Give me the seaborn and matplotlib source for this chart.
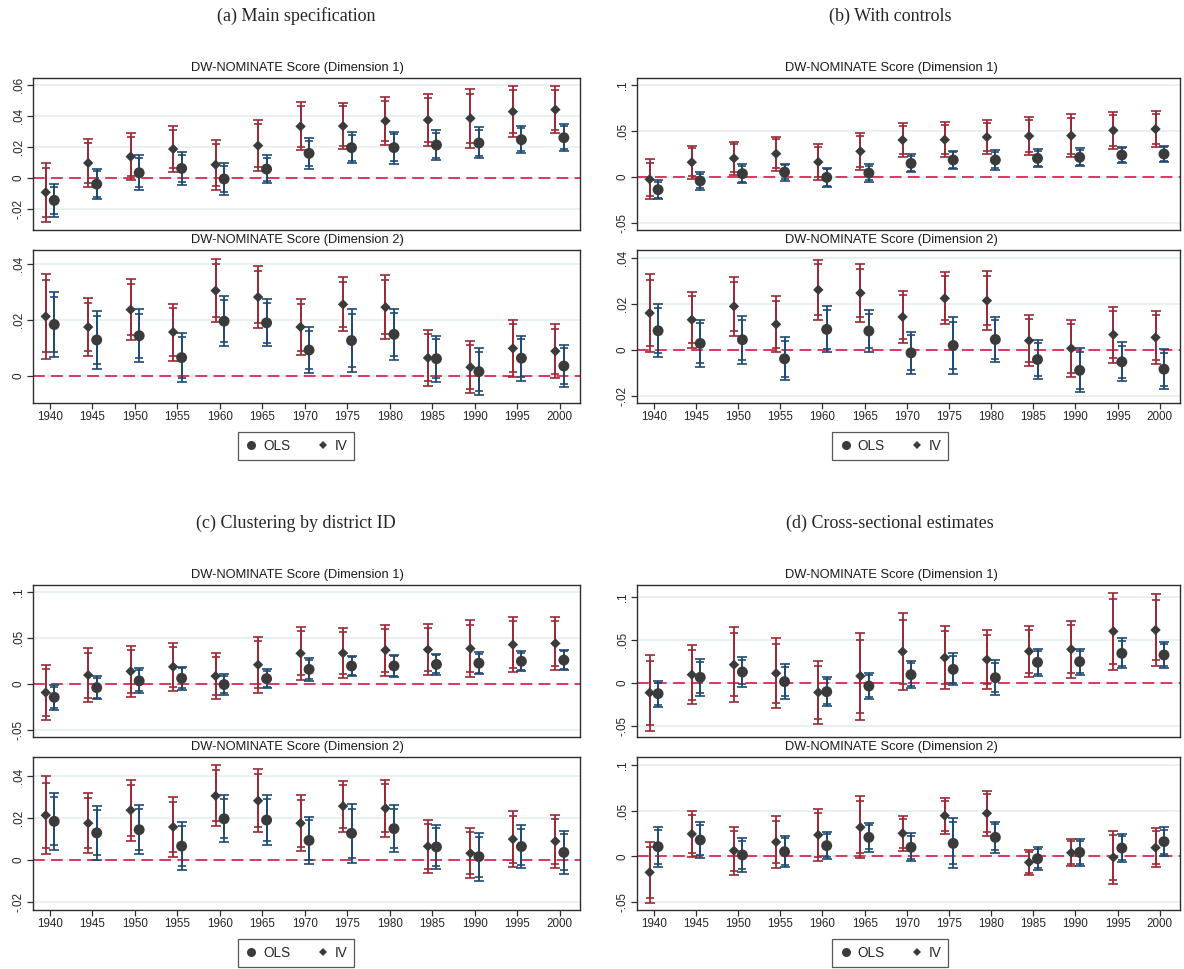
import numpy as np
import pandas as pd
import matplotlib
matplotlib.use("Agg")
import matplotlib.pyplot as plt
from matplotlib.lines import Line2D
from matplotlib.ticker import FuncFormatter
import seaborn as sns

# ---------------------------------------------------------------------------
# Estimates by Congress year (coefficients and standard errors)
# ---------------------------------------------------------------------------
YEARS = [1940, 1945, 1950, 1955, 1960, 1965, 1970, 1975, 1980, 1985, 1990, 1995, 2000]

# (a) Main specification
main_d1_iv = [-0.0092, 0.0097, 0.0138, 0.0187, 0.0086, 0.0209, 0.0333, 0.0335, 0.0368, 0.0374, 0.0385, 0.0428, 0.0441]
main_d1_iv_se = [0.0097, 0.0079, 0.0077, 0.0075, 0.0082, 0.0083, 0.0079, 0.0077, 0.0078, 0.0086, 0.0096, 0.0083, 0.0078]
main_d1_ols = [-0.0144, -0.0039, 0.0034, 0.0062, -0.0006, 0.0058, 0.0159, 0.0196, 0.0196, 0.0213, 0.0226, 0.0247, 0.0260]
main_d1_ols_se = [0.0054, 0.0050, 0.0057, 0.0053, 0.0052, 0.0045, 0.0050, 0.0051, 0.0053, 0.0049, 0.0051, 0.0045, 0.0045]
main_d2_iv = [0.0213, 0.0175, 0.0237, 0.0157, 0.0305, 0.0282, 0.0175, 0.0256, 0.0246, 0.0065, 0.0032, 0.0099, 0.0089]
main_d2_iv_se = [0.0078, 0.0053, 0.0055, 0.0052, 0.0058, 0.0056, 0.0051, 0.0049, 0.0058, 0.0051, 0.0048, 0.0052, 0.0049]
main_d2_ols = [0.0184, 0.0129, 0.0144, 0.0066, 0.0196, 0.0190, 0.0093, 0.0127, 0.0149, 0.0062, 0.0016, 0.0064, 0.0036]
main_d2_ols_se = [0.0060, 0.0053, 0.0048, 0.0044, 0.0045, 0.0043, 0.0042, 0.0057, 0.0046, 0.0042, 0.0043, 0.0041, 0.0038]

# (b) With controls
ctrl_d1_iv = [-0.0025, 0.0160, 0.0203, 0.0253, 0.0163, 0.0279, 0.0402, 0.0405, 0.0434, 0.0445, 0.0449, 0.0507, 0.0521]
ctrl_d1_iv_se = [0.0110, 0.0092, 0.0092, 0.0094, 0.0102, 0.0102, 0.0094, 0.0096, 0.0094, 0.0107, 0.0120, 0.0102, 0.0100]
ctrl_d1_ols = [-0.0138, -0.0043, 0.0036, 0.0054, -0.0004, 0.0043, 0.0148, 0.0185, 0.0185, 0.0203, 0.0214, 0.0239, 0.0250]
ctrl_d1_ols_se = [0.0054, 0.0048, 0.0052, 0.0047, 0.0054, 0.0048, 0.0050, 0.0052, 0.0055, 0.0050, 0.0050, 0.0045, 0.0046]
ctrl_d2_iv = [0.0161, 0.0132, 0.0190, 0.0112, 0.0262, 0.0248, 0.0144, 0.0225, 0.0215, 0.0041, 0.0007, 0.0067, 0.0055]
ctrl_d2_iv_se = [0.0086, 0.0062, 0.0065, 0.0062, 0.0067, 0.0064, 0.0057, 0.0058, 0.0065, 0.0057, 0.0064, 0.0062, 0.0059]
ctrl_d2_ols = [0.0084, 0.0029, 0.0045, -0.0038, 0.0090, 0.0083, -0.0012, 0.0020, 0.0046, -0.0041, -0.0088, -0.0051, -0.0083]
ctrl_d2_ols_se = [0.0059, 0.0053, 0.0053, 0.0048, 0.0051, 0.0046, 0.0046, 0.0063, 0.0051, 0.0043, 0.0049, 0.0043, 0.0044]

# (c) Clustering by district ID: same coefficients as (a), clustered errors
clus_d1_iv_se = [0.0155, 0.0149, 0.0142, 0.0132, 0.0128, 0.0154, 0.0145, 0.0138, 0.0142, 0.0142, 0.0158, 0.0153, 0.0146]
clus_d1_ols_se = [0.0068, 0.0066, 0.0070, 0.0065, 0.0059, 0.0052, 0.0062, 0.0058, 0.0063, 0.0059, 0.0062, 0.0055, 0.0057]
clus_d2_iv_se = [0.0094, 0.0073, 0.0074, 0.0073, 0.0074, 0.0076, 0.0068, 0.0062, 0.0069, 0.0065, 0.0061, 0.0068, 0.0065]
clus_d2_ols_se = [0.0069, 0.0065, 0.0060, 0.0058, 0.0057, 0.0060, 0.0058, 0.0071, 0.0057, 0.0054, 0.0058, 0.0052, 0.0052]

# (d) Cross-sectional estimates
cross_d1_iv = [-0.0113, 0.0097, 0.0213, 0.0113, -0.0109, 0.0081, 0.0365, 0.0295, 0.0272, 0.0369, 0.0392, 0.0601, 0.0617]
cross_d1_iv_se = [0.0226, 0.0176, 0.0224, 0.0208, 0.0186, 0.0258, 0.0227, 0.0188, 0.0174, 0.0152, 0.0170, 0.0228, 0.0212]
cross_d1_ols = [-0.0124, 0.0066, 0.0128, 0.0016, -0.0101, -0.0035, 0.0097, 0.0159, 0.0062, 0.0241, 0.0248, 0.0345, 0.0326]
cross_d1_ols_se = [0.0077, 0.0109, 0.0087, 0.0103, 0.0087, 0.0077, 0.0079, 0.0095, 0.0103, 0.0081, 0.0077, 0.0089, 0.0079]
cross_d2_iv = [-0.0175, 0.0245, 0.0062, 0.0157, 0.0234, 0.0318, 0.0252, 0.0445, 0.0471, -0.0066, 0.0040, -0.0011, 0.0095]
cross_d2_iv_se = [0.0171, 0.0126, 0.0134, 0.0143, 0.0144, 0.0173, 0.0097, 0.0100, 0.0127, 0.0069, 0.0075, 0.0149, 0.0110]
cross_d2_ols = [0.0106, 0.0179, 0.0015, 0.0051, 0.0117, 0.0208, 0.0099, 0.0142, 0.0208, -0.0026, 0.0044, 0.0091, 0.0161]
cross_d2_ols_se = [0.0112, 0.0099, 0.0095, 0.0088, 0.0075, 0.0080, 0.0078, 0.0140, 0.0086, 0.0064, 0.0076, 0.0079, 0.0080]

PANEL_TITLES = ["(a) Main specification", "(b) With controls",
                "(c) Clustering by district ID", "(d) Cross-sectional estimates"]
SUB_TITLES = ["DW-NOMINATE Score (Dimension 1)", "DW-NOMINATE Score (Dimension 2)"]
LEGEND_LABELS = ["OLS", "IV"]

# y-axis ranges and ticks per panel / dimension
YLIMS = {
    "a": [(-0.0335, 0.0645), (-0.0096, 0.045)],
    "b": [(-0.0576, 0.1076), (-0.023, 0.0435)],
    "c": [(-0.0576, 0.1076), (-0.0238, 0.049)],
    "d": [(-0.0628, 0.114), (-0.0587, 0.1087)],
}
YTICKS = {
    "a": [[-0.02, 0, 0.02, 0.04, 0.06], [0, 0.02, 0.04]],
    "b": [[-0.05, 0, 0.05, 0.1], [-0.02, 0, 0.02, 0.04]],
    "c": [[-0.05, 0, 0.05, 0.1], [-0.02, 0, 0.02, 0.04]],
    "d": [[-0.05, 0, 0.05, 0.1], [-0.05, 0, 0.05, 0.1]],
}

Z95, Z90 = 1.96, 1.645


def build_frame(iv, iv_se, ols, ols_se):
    rows = []
    for model, est, se in (("IV", iv, iv_se), ("OLS", ols, ols_se)):
        for yr, b, s in zip(YEARS, est, se):
            rows.append({"year": yr, "model": model, "est": b, "se": s})
    df = pd.DataFrame(rows)
    df["xpos"] = df["year"] + np.where(df["model"] == "IV", -0.5, 0.5)
    return df


PANELS = {
    "a": [build_frame(main_d1_iv, main_d1_iv_se, main_d1_ols, main_d1_ols_se),
          build_frame(main_d2_iv, main_d2_iv_se, main_d2_ols, main_d2_ols_se)],
    "b": [build_frame(ctrl_d1_iv, ctrl_d1_iv_se, ctrl_d1_ols, ctrl_d1_ols_se),
          build_frame(ctrl_d2_iv, ctrl_d2_iv_se, ctrl_d2_ols, ctrl_d2_ols_se)],
    "c": [build_frame(main_d1_iv, clus_d1_iv_se, main_d1_ols, clus_d1_ols_se),
          build_frame(main_d2_iv, clus_d2_iv_se, main_d2_ols, clus_d2_ols_se)],
    "d": [build_frame(cross_d1_iv, cross_d1_iv_se, cross_d1_ols, cross_d1_ols_se),
          build_frame(cross_d2_iv, cross_d2_iv_se, cross_d2_ols, cross_d2_ols_se)],
}

# ---------------------------------------------------------------------------
# Style
# ---------------------------------------------------------------------------
sns.set_theme(style="white")
plt.rcParams["font.family"] = ["Liberation Sans", "DejaVu Sans"]
plt.rcParams["axes.linewidth"] = 1.0

CI_COLORS = {"IV": "#9b2a36", "OLS": "#1f4a73"}
CI_INNER = {"IV": "#c4646e", "OLS": "#5a86ad"}
CAP_DARK = "#3a3a3a"
MARKER_COLOR = "#3b3b3b"
ZERO_COLOR = "#d92a55"
GRID_COLOR = "#e6eff0"
FRAME_COLOR = "#2e2e2e"

W, H = 1184, 969
fig = plt.figure(figsize=(W / 100, H / 100), dpi=100)


def add_axes_px(x0, y0, x1, y1):
    return fig.add_axes([x0 / W, 1 - y1 / H, (x1 - x0) / W, (y1 - y0) / H])


def stata_fmt(v, _pos):
    if abs(v) < 1e-12:
        return "0"
    s = f"{v:g}"
    return s.replace("0.", ".", 1)


def draw_cell(ax, df, ylim, yticks, show_x):
    ax.set_xlim(1938.0, 2002.4)
    ax.set_ylim(*ylim)
    ax.set_yticks(yticks)
    ax.yaxis.set_major_formatter(FuncFormatter(stata_fmt))
    for t in yticks:
        ax.axhline(t, color=GRID_COLOR, lw=1.3, zorder=0)
    ax.axhline(0, color=ZERO_COLOR, lw=1.3, dashes=(6.5, 3.5), zorder=1)

    for model in ("IV", "OLS"):
        sub = df[df["model"] == model]
        _, caps, _ = ax.errorbar(sub["xpos"], sub["est"], yerr=Z95 * sub["se"],
                                 fmt="none", ecolor=CI_COLORS[model],
                                 elinewidth=1.3, capsize=3.3, capthick=1.2, zorder=2)
        for c in caps:
            c.set_color(CAP_DARK)
        _, caps2, _ = ax.errorbar(sub["xpos"], sub["est"], yerr=Z90 * sub["se"],
                                  fmt="none", ecolor=CI_COLORS[model],
                                  elinewidth=1.3, capsize=2.7, capthick=1.2, zorder=3)
        for c in caps2:
            c.set_color(CI_INNER[model])

    sns.scatterplot(data=df, x="xpos", y="est", style="model",
                    markers={"IV": "D", "OLS": "o"},
                    size="model", sizes={"IV": 28, "OLS": 62},
                    color=MARKER_COLOR, edgecolor="none", legend=False,
                    ax=ax, zorder=4)
    ax.set_xlabel("")
    ax.set_ylabel("")
    for sp in ax.spines.values():
        sp.set_color(FRAME_COLOR)
        sp.set_linewidth(1.0)
    ax.tick_params(axis="y", which="both", left=True, length=4, width=0.9,
                   color=FRAME_COLOR, labelsize=8.4, pad=2, labelrotation=90)
    for lab in ax.get_yticklabels():
        lab.set_va("center")
    if show_x:
        ax.set_xticks(YEARS)
        ax.set_xticklabels([str(y) for y in YEARS])
        ax.tick_params(axis="x", bottom=True, length=4, width=0.9,
                       color=FRAME_COLOR, labelsize=8.4, pad=2)
    else:
        ax.set_xticks([])


# pixel layout of each panel: (axes x0, x1, top offset, graph centre)
COLS = {"a": (33, 580, 0, 296), "b": (637, 1180, 0, 890),
        "c": (33, 580, 507, 296), "d": (637, 1180, 507, 890)}

legend_handles = [
    Line2D([], [], marker="o", color=MARKER_COLOR, lw=0, markersize=6.5,
           markeredgewidth=0),
    Line2D([], [], marker="D", color=MARKER_COLOR, lw=0, markersize=4.3,
           markeredgewidth=0),
]

for key, title in zip("abcd", PANEL_TITLES):
    x0, x1, dy, cx = COLS[key]
    fig.text(cx / W, 1 - (16 + dy) / H, title, ha="center", va="center",
             fontsize=13, family=["Liberation Serif", "DejaVu Serif"])
    boxes = [(78 + dy, 230 + dy), (250 + dy, 403 + dy)]
    for i, (ya, yb) in enumerate(boxes):
        ax = add_axes_px(x0, ya, x1, yb)
        draw_cell(ax, PANELS[key][i], YLIMS[key][i], YTICKS[key][i], show_x=(i == 1))
        fig.text((cx + 1) / W, 1 - (ya - 10) / H, SUB_TITLES[i], ha="center",
                 va="center", fontsize=9.3, color="#1a1a1a")
    leg = fig.legend(legend_handles, LEGEND_LABELS, loc="center",
                     bbox_to_anchor=(cx / W, 1 - (446 + dy) / H),
                     ncol=2, frameon=True, fancybox=False, fontsize=9.8,
                     handletextpad=0.35, columnspacing=1.9, handlelength=1.0,
                     borderpad=0.5)
    leg.get_frame().set_edgecolor(FRAME_COLOR)
    leg.get_frame().set_linewidth(0.9)

fig.savefig("out.png", dpi=100, facecolor="white")
